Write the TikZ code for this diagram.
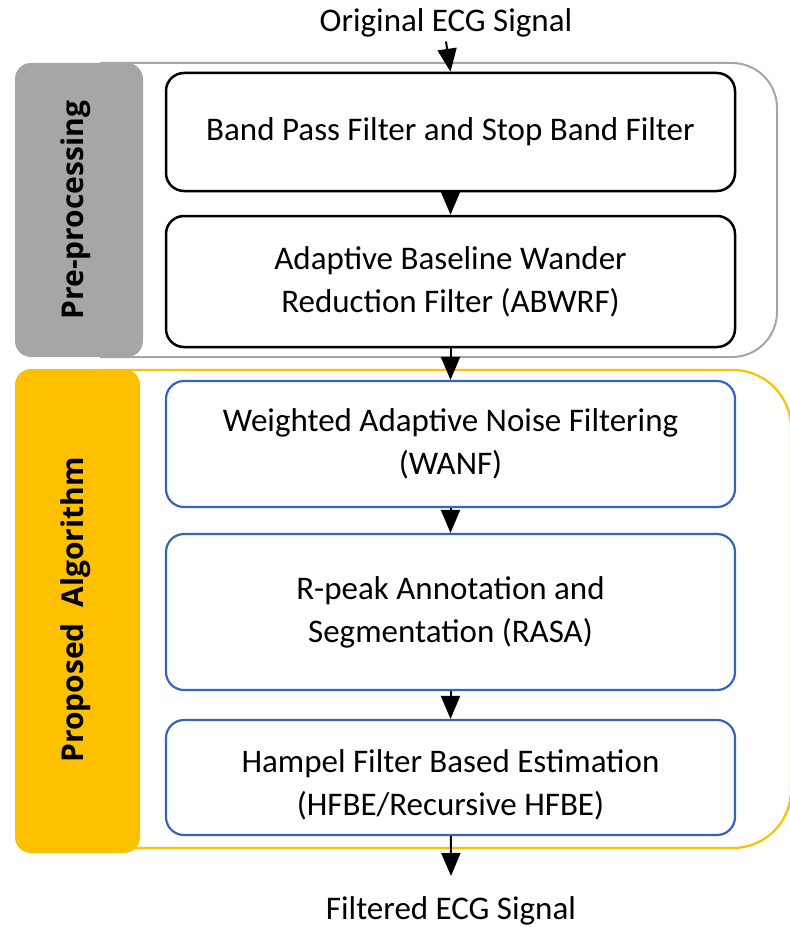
\documentclass[tikz,border=0pt]{standalone}
\usepackage{fontspec}
\setmainfont{Carlito}
\newfontfamily\labelfont{Open Sans}
\usetikzlibrary{arrows.meta}
\definecolor{grayfill}{HTML}{A6A6A6}
\definecolor{grayframe}{HTML}{A5A5A5}
\definecolor{goldfill}{HTML}{FFC000}
\definecolor{boxblue}{HTML}{3563C0}
\tikzset{
  stepbox/.style={draw, rounded corners=18pt, minimum width=569pt, align=center,
    font=\fontsize{33}{43}\selectfont, inner sep=0pt},
  blackbox/.style={stepbox, draw=black, line width=2.5pt},
  bluebox/.style={stepbox, draw=boxblue, line width=2.2pt},
  flow/.style={line width=2pt, -{Triangle[length=23pt,width=19pt]}},
  sidelabel/.style={rounded corners=16pt, inner sep=0pt},
  sidetext/.style={rotate=90, font=\labelfont\bfseries\fontsize{30}{36}\selectfont},
  plaintext/.style={font=\fontsize{33}{40}\selectfont, inner sep=0pt}
}
\begin{document}
\begin{tikzpicture}[x=1pt,y=-1pt]
\useasboundingbox (0,0) rectangle (789,928);
% frames
\draw[grayframe, line width=2pt, rounded corners=45pt] (100,63) -- (777,63) -- (777,357) -- (100,357);
\draw[goldfill, line width=2.2pt, rounded corners=58pt] (100,370) -- (791,370) -- (791,848) -- (100,848);
% side labels
\node[sidelabel, fill=grayfill, minimum width=128pt, minimum height=294pt] (pre) at (79,210) {};
\node[sidetext] (pret) at (76,210) {Pre-processing};
\node[sidelabel, fill=goldfill, minimum width=125pt, minimum height=484pt] (alg) at (77.5,611) {};
\node[sidetext] (algt) at (76,610) {Proposed\ \ Algorithm};
% titles
\node[plaintext] (title) at (446,23) {Original ECG Signal};
\node[plaintext] (out) at (451,911) {Filtered ECG Signal};
% boxes
\node[blackbox, minimum height=118pt] (b1) at (450.5,132) {Band Pass Filter and Stop Band Filter};
\node[blackbox, minimum height=131pt] (b2) at (450.5,281.5) {Adaptive Baseline Wander\\Reduction Filter (ABWRF)};
\node[bluebox, minimum height=126pt] (b3) at (450.5,444) {Weighted Adaptive Noise Filtering\\(WANF)};
\node[bluebox, minimum height=156pt] (b4) at (450.5,612) {R-peak Annotation and\\Segmentation (RASA)};
\node[bluebox, minimum height=115pt] (b5) at (450.5,777.5) {\rule{0pt}{37pt}Hampel Filter Based Estimation\\(HFBE/Recursive HFBE)};
\coordinate (end) at (451,876);
% arrows
\draw[flow] (title.south) ++(0,4) -- (b1.north);
\draw[flow] (b1) -- (b2);
\draw[flow] (b2) -- (b3);
\draw[flow] (b3) -- (b4);
\draw[flow] (b4) -- (b5);
\draw[flow] (b5) -- (end);
\end{tikzpicture}
\end{document}
